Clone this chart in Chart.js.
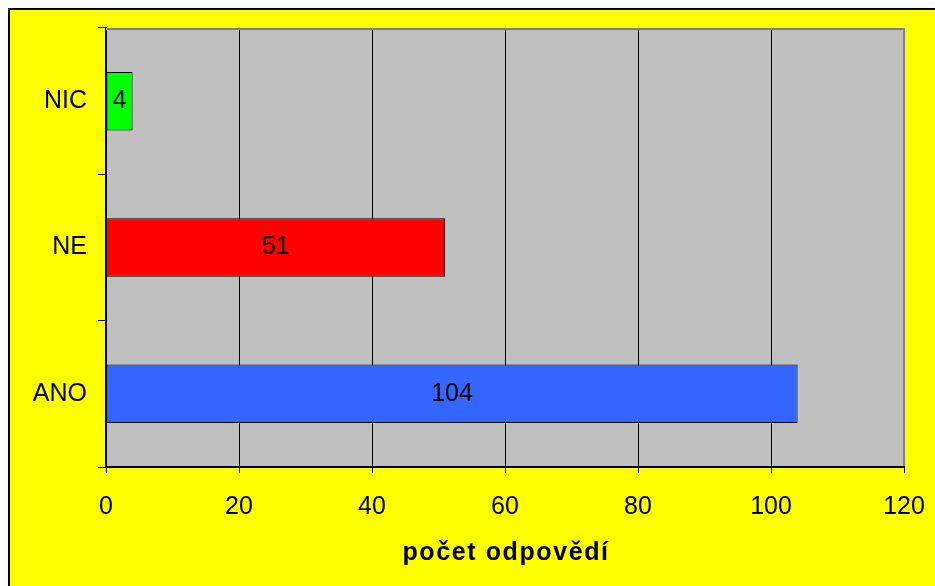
<!DOCTYPE html>
<html>
<head>
<meta charset="utf-8">
<script src="https://cdn.jsdelivr.net/npm/chart.js@4"></script>
<style>
  html, body { margin: 0; padding: 0; background: #ffffff; }
  canvas { display: block; }
</style>
</head>
<body>
<canvas id="c" width="935" height="586"></canvas>
<script>
const categories = ['NIC', 'NE', 'ANO'];
const counts = [4, 51, 104];
const barColors = ['#00FF00', '#FF0000', '#3366FF'];
const xTitle = 'počet odpovědí';
const xMin = 0, xMax = 120, xStep = 20;

const FONT = "'Liberation Sans', Arial, sans-serif";

const framePlugin = {
  id: 'frame',
  beforeDraw(chart) {
    const ctx = chart.ctx;
    const a = chart.chartArea;
    ctx.save();
    ctx.fillStyle = '#ffffff';
    ctx.fillRect(0, 0, chart.width, chart.height);
    ctx.fillStyle = '#FFFF00';
    ctx.fillRect(8, 8, chart.width - 8, chart.height - 8);
    ctx.fillStyle = '#000000';
    ctx.fillRect(8, 8, chart.width - 8, 2);
    ctx.fillRect(8, 8, 2, chart.height - 8);
    ctx.fillStyle = '#C0C0C0';
    ctx.fillRect(a.left, a.top, a.right - a.left, a.bottom - a.top);
    ctx.restore();
  },
  beforeDatasetsDraw(chart) {
    const ctx = chart.ctx;
    const a = chart.chartArea;
    ctx.save();
    ctx.strokeStyle = '#808080';
    ctx.lineWidth = 2;
    ctx.beginPath();
    ctx.moveTo(a.left, a.top + 1);
    ctx.lineTo(a.right + 1, a.top + 1);
    ctx.moveTo(a.right, a.top);
    ctx.lineTo(a.right, a.bottom - 1);
    ctx.stroke();
    ctx.restore();
  },
  afterDatasetsDraw(chart) {
    const ctx = chart.ctx;
    const meta = chart.getDatasetMeta(0);
    ctx.save();
    ctx.fillStyle = '#000000';
    ctx.font = '25px ' + FONT;
    ctx.textAlign = 'center';
    ctx.textBaseline = 'middle';
    meta.data.forEach((bar, i) => {
      const x = (bar.base + bar.x) / 2;
      ctx.fillText(String(counts[i]), x, bar.y);
    });
    // axis title
    const a = chart.chartArea;
    ctx.font = 'bold 25px ' + FONT;
    ctx.letterSpacing = '1.6px';
    ctx.textBaseline = 'alphabetic';
    ctx.fillText(xTitle, (a.left + a.right) / 2 + 1, 560);
    ctx.restore();
  }
};

new Chart(document.getElementById('c'), {
  type: 'bar',
  data: {
    labels: categories,
    datasets: [{
      data: counts,
      backgroundColor: barColors,
      borderColor: '#000000',
      borderWidth: 1,
      borderSkipped: false,
      barPercentage: 0.4,
      categoryPercentage: 1.0
    }]
  },
  options: {
    indexAxis: 'y',
    responsive: false,
    animation: false,
    devicePixelRatio: 1,
    layout: { padding: { top: 28, right: 31, left: 0, bottom: 0 } },
    plugins: {
      legend: { display: false },
      tooltip: { enabled: false },
      title: { display: false }
    },
    scales: {
      x: {
        type: 'linear',
        min: xMin,
        max: xMax,
        ticks: {
          stepSize: xStep,
          color: '#000000',
          font: { family: FONT, size: 25 },
          padding: 19
        },
        grid: {
          color: '#000000',
          lineWidth: 1,
          tickLength: 6,
          drawOnChartArea: true
        },
        border: { color: '#000000', width: 2 },
        afterFit(scale) {
          scale.height = 119;
          scale.paddingRight = 0;
          scale.paddingLeft = 0;
        }
      },
      y: {
        type: 'category',
        ticks: {
          color: '#000000',
          font: { family: FONT, size: 25 },
          padding: 11
        },
        grid: {
          color: '#000000',
          lineWidth: 1,
          tickLength: 8,
          drawOnChartArea: false,
          offset: true
        },
        border: { color: '#000000', width: 2 },
        afterFit(scale) {
          scale.width = 106;
          scale.paddingTop = 0;
          scale.paddingBottom = 0;
        }
      }
    }
  },
  plugins: [framePlugin]
});
</script>
</body>
</html>
